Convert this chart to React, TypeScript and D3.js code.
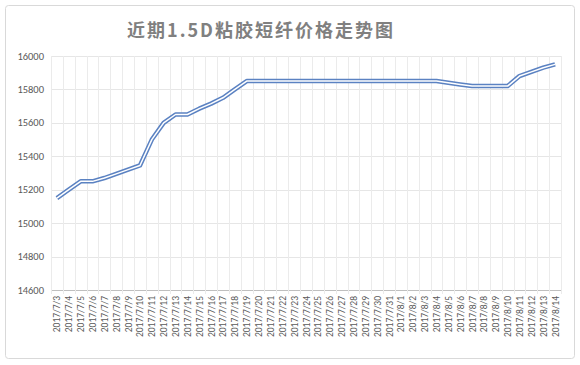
import React, { useEffect, useRef } from "react";
import * as d3 from "d3";

const dates = [
  "2017/7/3", "2017/7/4", "2017/7/5", "2017/7/6", "2017/7/7", "2017/7/8", "2017/7/9",
  "2017/7/10", "2017/7/11", "2017/7/12", "2017/7/13", "2017/7/14", "2017/7/15", "2017/7/16",
  "2017/7/17", "2017/7/18", "2017/7/19", "2017/7/20", "2017/7/21", "2017/7/22", "2017/7/23",
  "2017/7/24", "2017/7/25", "2017/7/26", "2017/7/27", "2017/7/28", "2017/7/29", "2017/7/30",
  "2017/7/31", "2017/8/1", "2017/8/2", "2017/8/3", "2017/8/4", "2017/8/5", "2017/8/6",
  "2017/8/7", "2017/8/8", "2017/8/9", "2017/8/10", "2017/8/11", "2017/8/12", "2017/8/13",
  "2017/8/14",
];
const prices = [
  15150, 15200, 15250, 15250, 15270, 15295, 15320,
  15345, 15500, 15600, 15650, 15650, 15685, 15715,
  15750, 15800, 15850, 15850, 15850, 15850, 15850,
  15850, 15850, 15850, 15850, 15850, 15850, 15850,
  15850, 15850, 15850, 15850, 15850, 15840, 15830,
  15820, 15820, 15820, 15820, 15880, 15905, 15930,
  15950,
];
const yTicks = [14600, 14800, 15000, 15200, 15400, 15600, 15800, 16000];
const title = "近期1.5D粘胶短纤价格走势图";

export default function App() {
  const ref = useRef<SVGSVGElement>(null);

  useEffect(() => {
    const W = 580, H = 365;
    const left = 51, right = 561, top = 56, bottom = 290;
    const svg = d3.select(ref.current);
    svg.selectAll("*").remove();

    svg.append("rect")
      .attr("x", 5.5).attr("y", 5.5)
      .attr("width", W - 11).attr("height", H - 12)
      .attr("rx", 3)
      .attr("fill", "#fff")
      .attr("stroke", "#d9d9d9");

    svg.append("text")
      .attr("x", 261).attr("y", 37)
      .attr("text-anchor", "middle")
      .attr("font-family", "'Noto Sans CJK SC', sans-serif")
      .attr("font-size", 18)
      .attr("font-weight", "bold")
      .attr("letter-spacing", 2)
      .attr("fill", "#808080")
      .text(title);

    var x = d3.scaleBand().domain(dates).range([left, right]);
    var y = d3.scaleLinear().domain([14600, 16000]).range([bottom, top]);

    // horizontal grid
    svg.selectAll(".hg").data(yTicks).enter().append("line")
      .attr("x1", left).attr("x2", right)
      .attr("y1", (d) => Math.round(y(d)) + 0.5)
      .attr("y2", (d) => Math.round(y(d)) + 0.5)
      .attr("stroke", (d) => (d === 14600 ? "#bfbfbf" : "#e6e6e6"));

    // vertical grid at category boundaries
    var bounds = dates.map((d) => x(d) as number).concat([right]);
    svg.selectAll(".vg").data(bounds).enter().append("line")
      .attr("x1", (d) => Math.round(d) + 0.5).attr("x2", (d) => Math.round(d) + 0.5)
      .attr("y1", top).attr("y2", bottom + 4)
      .attr("stroke", "#ebebeb");

    svg.selectAll(".yl").data(yTicks).enter().append("text")
      .attr("x", 44).attr("y", (d) => y(d) + 3.5)
      .attr("text-anchor", "end")
      .attr("font-family", "Calibri, 'Liberation Sans', sans-serif")
      .attr("font-size", 10.5)
      .attr("fill", "#595959")
      .text((d) => d);

    svg.selectAll(".xl").data(dates).enter().append("text")
      .attr("transform", (d) => {
        var cx = (x(d) as number) + x.bandwidth() / 2 + 3.5;
        return "translate(" + cx + "," + (bottom + 6) + ") rotate(-90)";
      })
      .attr("text-anchor", "end")
      .attr("font-family", "Calibri, 'Liberation Sans', sans-serif")
      .attr("font-size", 9.5)
      .attr("fill", "#595959")
      .text((d) => d);

    var line = d3.line<number>()
      .x((d, i) => (x(dates[i]) as number) + x.bandwidth() / 2)
      .y((d) => y(d));

    svg.append("path").datum(prices)
      .attr("d", line)
      .attr("fill", "none")
      .attr("stroke", "#5b82c2")
      .attr("stroke-width", 4.5)
      .attr("stroke-linejoin", "round");
    svg.append("path").datum(prices)
      .attr("d", line)
      .attr("fill", "none")
      .attr("stroke", "#fff")
      .attr("stroke-width", 1.5)
      .attr("stroke-linejoin", "round");
  }, []);

  return (
    <svg
      ref={ref}
      width={580}
      height={365}
      style={{ position: "absolute", left: 0, top: 0 }}
    />
  );
}
